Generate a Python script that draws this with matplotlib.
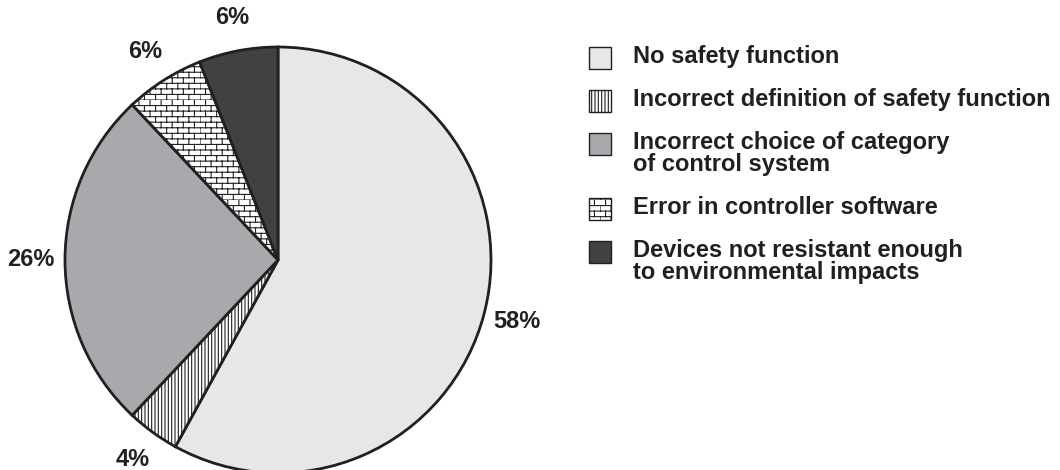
import warnings
import numpy as np
import matplotlib
matplotlib.use("Agg")
from matplotlib import pyplot as plt
from matplotlib import hatch as mhatch
from matplotlib.patches import Rectangle

warnings.filterwarnings("ignore")

categories = [
    "No safety function",
    "Incorrect definition of safety function",
    "Incorrect choice of category\nof control system",
    "Error in controller software",
    "Devices not resistant enough\nto environmental impacts",
]
shares = [58, 4, 26, 6, 6]
pct_labels = [f"{v}%" for v in shares]

INK = "#231f20"
colors = ["#e6e7e8", "white", "#a7a9ac", "white", "#414042"]
hatches = [None, "|||||", None, "bbb", None]


# brick hatch, matplotlib has none built in
class BrickHatch(mhatch.HatchPatternBase):
    def __init__(self, hatch, density):
        self.rows = int(hatch.count("b") * density)
        self.cols = max(self.rows // 2, 1)
        self.num_vertices = self.rows * 2 + self.rows * self.cols * 2

    def set_vertices_and_codes(self, vertices, codes):
        k = 0
        for i in range(self.rows):
            y = i / self.rows
            vertices[k] = (0, y)
            vertices[k + 1] = (1, y)
            k += 2
        for i in range(self.rows):
            y0 = i / self.rows
            y1 = (i + 1) / self.rows
            off = 0 if i % 2 == 0 else 0.5 / self.cols
            for j in range(self.cols):
                x = j / self.cols + off
                vertices[k] = (x, y0)
                vertices[k + 1] = (x, y1)
                k += 2
        codes[0::2] = 1  # MOVETO
        codes[1::2] = 2  # LINETO


mhatch._hatch_types.append(BrickHatch)

plt.rcParams["font.family"] = ["Liberation Sans", "DejaVu Sans"]
plt.rcParams["font.weight"] = "bold"
plt.rcParams["hatch.color"] = INK
plt.rcParams["hatch.linewidth"] = 0.8

W, H = 1060, 470
fig = plt.figure(figsize=(W / 100, H / 100), dpi=100)
# pie centre ~ (278, 260) px, radius ~ 213 px
ax = fig.add_axes([65 / W, -3 / H, 426 / W, 426 / H])

wedges, texts = ax.pie(
    shares,
    labels=pct_labels,
    colors=colors,
    startangle=90,
    counterclock=False,
    labeldistance=1.16,
    wedgeprops=dict(edgecolor=INK, linewidth=2),
    textprops=dict(fontsize=17, fontweight="bold", color=INK),
)
for w, h in zip(wedges, hatches):
    if h:
        w.set_hatch(h)
for t in texts:
    t.set_horizontalalignment("center")
    t.set_verticalalignment("center")

ax.set_xlim(-1, 1)
ax.set_ylim(-1, 1)
ax.set_aspect("equal")
ax.axis("off")

# legend by hand so the swatch sits on the first line of two-line labels
base = 63       # baseline of first entry, px from top
pitch = 43      # entry pitch
line_h = 22     # extra line inside an entry
box = 22
for c, h, lab in zip(colors, hatches, categories):
    lines = lab.split("\n")
    cy = base - 5
    fig.add_artist(Rectangle((589 / W, 1 - (cy + box / 2) / H), box / W, box / H,
                             transform=fig.transFigure, facecolor=c,
                             edgecolor=INK, linewidth=1.0, hatch=h))
    for k, ln in enumerate(lines):
        fig.text(633 / W, 1 - (base + k * line_h) / H, ln, fontsize=17,
                 fontweight="bold", color=INK, ha="left", va="baseline")
    base += pitch + line_h * (len(lines) - 1)

fig.savefig("out.png", dpi=100, facecolor="white")
